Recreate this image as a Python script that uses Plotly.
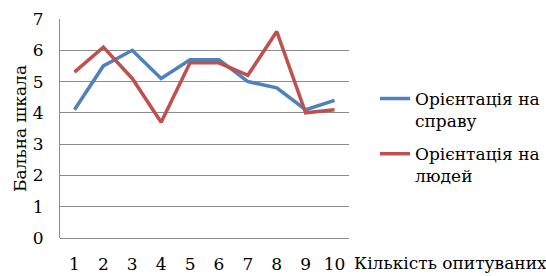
import plotly.graph_objects as go

categories = ["1", "2", "3", "4", "5", "6", "7", "8", "9", "10"]
series_names = ["Орієнтація на<br>справу", "Орієнтація на<br>людей"]
work = [4.1, 5.5, 6.0, 5.1, 5.7, 5.7, 5.0, 4.8, 4.1, 4.4]
people = [5.3, 6.1, 5.1, 3.7, 5.6, 5.6, 5.2, 6.6, 4.0, 4.1]
y_ticks = [0, 1, 2, 3, 4, 5, 6, 7]

font_family = "DejaVu Serif"

fig = go.Figure()
fig.add_trace(go.Scatter(x=categories, y=work, mode="lines", name=series_names[0],
                         legendgroup="a",
                         line=dict(color="#4F81BD", width=3.5)))
fig.add_trace(go.Scatter(x=categories, y=people, mode="lines", name=series_names[1],
                         legendgroup="b",
                         line=dict(color="#C0504D", width=3.5)))

fig.update_layout(
    width=546, height=276,
    margin=dict(l=60, r=197, t=19, b=38, autoexpand=False),
    paper_bgcolor="white", plot_bgcolor="white",
    font=dict(family=font_family, size=17, color="black"),
    legend=dict(x=1.09, y=0.717, xanchor="left", yanchor="top",
                font=dict(size=17, family=font_family), valign="top",
                traceorder="grouped", tracegroupgap=8, itemwidth=30),
    xaxis=dict(type="category", range=[-0.5, 9.5], showgrid=False, showline=False, ticks="",
               tickfont=dict(size=17, family=font_family), ticklabelstandoff=14, automargin=False),
    yaxis=dict(range=[0, 7], tickvals=y_ticks, showgrid=True, gridcolor="#8C8C8C",
               gridwidth=1, showline=True, linecolor="#8C8C8C", linewidth=1,
               zeroline=True, zerolinecolor="#8C8C8C", zerolinewidth=1,
               ticks="", tickfont=dict(size=17, family=font_family), ticklabelstandoff=12,
               automargin=False,
               title=dict(text="Бальна шкала", font=dict(size=17, family=font_family), standoff=1)),
    showlegend=True,
)
fig.add_annotation(text="Кількість опитуваних", xref="paper", yref="paper",
                   x=1.01, y=-0.115, xanchor="left", yanchor="middle",
                   showarrow=False, font=dict(size=17, family=font_family))

fig.write_html("out.html", config={"displayModeBar": False},
               post_script="document.body.style.margin='0px';")
